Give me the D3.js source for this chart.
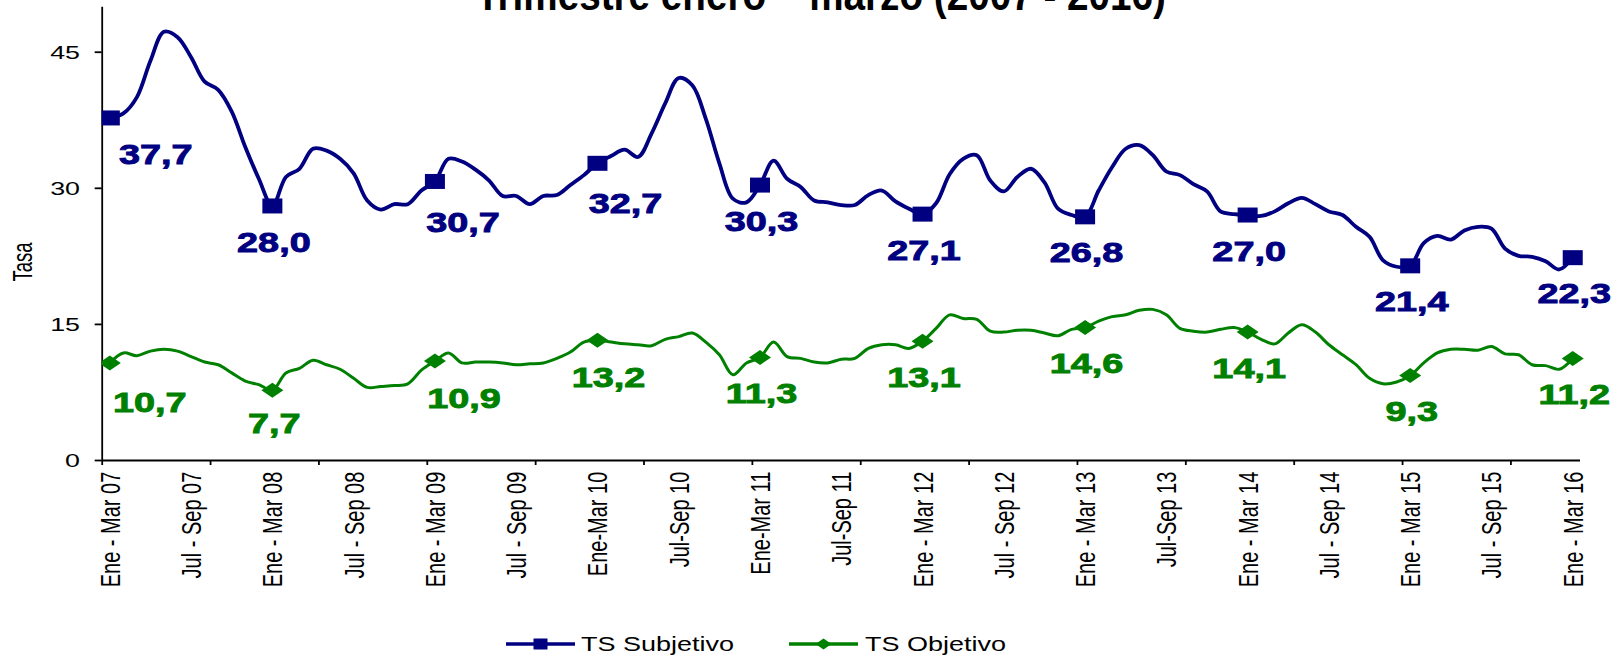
<!DOCTYPE html>
<html>
<head>
<meta charset="utf-8">
<script src="https://d3js.org/d3.v7.min.js"></script>
<style>
  body { margin: 0; background: #fff; }
  svg text { font-family: "Liberation Sans", Arial, sans-serif; fill: #000; }
</style>
</head>
<body>
<svg id="chart" width="1621" height="655"></svg>
<script>
// moving quarters, Ene-Mar 07 ... Ene-Mar 16 (one point per month)
var subjetivo = [
  37.7, 38.2, 40.0, 44.0, 47.2, 46.6, 44.4, 41.7, 40.8, 38.4, 34.5, 31.0,
  28.0, 31.2, 32.1, 34.3, 34.1, 33.2, 31.6, 28.6, 27.6, 28.2, 28.2, 29.7,
  30.7, 33.2, 32.9, 32.0, 30.8, 29.1, 29.1, 28.2, 29.1, 29.2, 30.3, 31.4,
  32.7, 33.5, 34.2, 33.4, 36.0, 39.3, 42.1, 41.3, 37.6, 32.7, 28.8, 28.4,
  30.3, 33.0, 31.0, 30.1, 28.6, 28.4, 28.1, 28.1, 29.2, 29.7, 28.5, 27.7,
  27.1, 28.3, 31.5, 33.2, 33.6, 30.8, 29.6, 31.2, 32.1, 30.6, 27.7, 27.0,
  26.8, 29.7, 32.3, 34.3, 34.7, 33.6, 31.8, 31.4, 30.4, 29.6, 27.4, 27.1,
  27.0, 26.9, 27.4, 28.3, 28.9, 28.2, 27.4, 27.0, 25.7, 24.6, 22.0, 21.3,
  21.4, 23.9, 24.7, 24.3, 25.3, 25.7, 25.5, 23.3, 22.5, 22.4, 21.9, 21.0,
  22.3
];
var objetivo = [
  10.7, 11.8, 11.5, 12.0, 12.2, 12.0, 11.4, 10.8, 10.5, 9.6, 8.7, 8.3,
  7.7, 9.6, 10.1, 11.0, 10.5, 10.0, 9.0, 8.0, 8.1, 8.2, 8.4, 9.9,
  10.9, 11.8, 10.7, 10.8, 10.8, 10.7, 10.5, 10.6, 10.7, 11.2, 11.9, 13.0,
  13.2, 13.0, 12.8, 12.7, 12.6, 13.3, 13.6, 14.0, 13.0, 11.6, 9.4, 10.7,
  11.3, 13.0, 11.4, 11.2, 10.8, 10.7, 11.1, 11.2, 12.3, 12.7, 12.7, 12.3,
  13.1, 14.5, 16.0, 15.6, 15.5, 14.2, 14.1, 14.3, 14.3, 14.0, 13.7, 14.4,
  14.6, 15.3, 15.8, 16.0, 16.5, 16.6, 16.0, 14.5, 14.2, 14.1, 14.4, 14.6,
  14.1, 13.3, 12.8, 14.0, 14.9, 14.1, 12.7, 11.6, 10.5, 9.0, 8.4, 8.6,
  9.3, 10.7, 11.8, 12.2, 12.2, 12.1, 12.5, 11.7, 11.6, 10.5, 10.4, 10.0,
  11.2
];
var xLabels = [
  "Ene - Mar 07", "Jul - Sep 07", "Ene - Mar 08", "Jul - Sep 08", "Ene - Mar 09",
  "Jul - Sep 09", "Ene-Mar 10", "Jul-Sep 10", "Ene-Mar 11", "Jul-Sep 11",
  "Ene - Mar 12", "Jul - Sep 12", "Ene - Mar 13", "Jul-Sep 13", "Ene - Mar 14",
  "Jul - Sep 14", "Ene - Mar 15", "Jul - Sep 15", "Ene - Mar 16"
];
var yTicks = [0, 15, 30, 45];
var seriesNames = ["TS Subjetivo", "TS Objetivo"];

var svg = d3.select("#chart");
var navy = "#000080", green = "#008000";
var stretch = 1.35; // text in the original is widened

var x = d3.scaleLinear().domain([-0.6, 108.5]).range([101.7, 1579.5]);
var y = d3.scaleLinear().domain([0, 50]).range([460, 6.35]);

var labelIdx = d3.range(0, subjetivo.length, 6);
var markIdx = d3.range(0, subjetivo.length, 12);
var tickIdx = d3.range(0, 14).map(function (k) { return 8 * k - 0.6; });
var fmt = function (v) { return d3.format(".1f")(v).replace(".", ","); };

svg.append("rect").attr("width", 1621).attr("height", 655).attr("fill", "#fff");

svg.append("clipPath").attr("id", "plot")
  .append("rect").attr("x", 101.7).attr("y", 0).attr("width", 1500).attr("height", 460);

// title (only its lower part shows, as in the original)
svg.append("text")
  .attr("x", 476).attr("y", 9.5)
  .attr("textLength", 690).attr("lengthAdjust", "spacingAndGlyphs")
  .style("font-size", "44px").style("font-weight", "bold")
  .text("Trimestre enero \u2013 marzo (2007 - 2016)");

// y axis
var gy = svg.append("g").attr("transform", "translate(" + x(-0.6) + ",0)")
  .call(d3.axisLeft(y).tickValues(yTicks).tickSize(7).tickSizeOuter(0));
gy.select(".domain").attr("stroke", "#000").attr("stroke-width", 1.8);
gy.selectAll(".tick line").attr("stroke", "#000").attr("stroke-width", 1.8);
gy.selectAll(".tick text")
  .attr("x", 0).attr("dy", "0.36em")
  .attr("transform", "translate(-21.7,0) scale(1.45,1)")
  .attr("font-family", null).attr("font-size", null)
  .style("font-size", "18.5px");

svg.append("text")
  .attr("transform", "translate(23,262) rotate(-90) scale(1,1.45)")
  .attr("text-anchor", "middle").attr("dy", "0.35em")
  .style("font-size", "18.5px")
  .text("Tasa");

// x axis: tick marks every 8 months, labels every 6
var gx = svg.append("g").attr("transform", "translate(0," + y(0) + ")")
  .call(d3.axisBottom(x).tickValues(tickIdx).tickSize(5).tickSizeOuter(0).tickFormat(""));
gx.select(".domain").attr("stroke", "#000").attr("stroke-width", 1.8);
gx.selectAll(".tick line").attr("stroke", "#000").attr("stroke-width", 1.8);

var gl = svg.append("g").attr("transform", "translate(0," + y(0) + ")")
  .call(d3.axisBottom(x).tickValues(labelIdx).tickSize(0)
    .tickFormat(function (d, i) { return xLabels[i]; }));
gl.select(".domain").remove();
gl.selectAll("text")
  .attr("x", 0).attr("y", 0).attr("dy", "0.35em")
  .attr("text-anchor", "end")
  .attr("transform", "translate(0,11.7) rotate(-90) scale(1," + stretch + ")")
  .attr("font-family", null).attr("font-size", null)
  .style("font-size", "20px");

// lines
var line = d3.line()
  .x(function (d, i) { return x(i); })
  .y(function (d) { return y(d); })
  .curve(d3.curveCatmullRom);

var plot = svg.append("g").attr("clip-path", "url(#plot)");

plot.append("path").datum(subjetivo)
  .attr("d", line).attr("fill", "none")
  .attr("stroke", navy).attr("stroke-width", 3.8).attr("stroke-linejoin", "round");

plot.append("path").datum(objetivo)
  .attr("d", line).attr("fill", "none")
  .attr("stroke", green).attr("stroke-width", 3).attr("stroke-linejoin", "round");

plot.selectAll(".sq").data(markIdx).enter().append("rect")
  .attr("x", function (i) { return x(i) - 10; })
  .attr("y", function (i) { return y(subjetivo[i]) - 7.5; })
  .attr("width", 20).attr("height", 15)
  .attr("fill", navy);

plot.selectAll(".dm").data(markIdx).enter().append("path")
  .attr("transform", function (i) { return "translate(" + x(i) + "," + y(objetivo[i]) + ")"; })
  .attr("d", "M0,-7.5L11,0L0,7.5L-11,0Z")
  .attr("fill", green);

// data labels (some were moved by hand in the original)
var shiftSub = { 0: [46, 35.5], 24: [28, 40.5], 36: [28, 39.7] };
var shiftObj = { 0: [40, 38.8], 12: [2, 33.2], 24: [29, 37.2], 36: [11, 36.5] };

function drawLabels(values, shifts, color) {
  svg.append("g").selectAll("text").data(markIdx).enter().append("text")
    .attr("transform", function (i) {
      var s = shifts[i] || [1.5, 35.5];
      return "translate(" + (x(i) + s[0]) + "," + (y(values[i]) + s[1]) + ") scale(" + stretch + ",1)";
    })
    .attr("text-anchor", "middle").attr("dy", "0.36em")
    .style("font-size", "28px").style("font-weight", "bold")
    .style("fill", color)
    .style("stroke", color).style("stroke-width", 0.9)
    .text(function (i) { return fmt(values[i]); });
}
drawLabels(subjetivo, shiftSub, navy);
drawLabels(objetivo, shiftObj, green);

// legend
var legend = [
  { name: seriesNames[0], color: navy, x0: 506, x1: 575, tx: 581 },
  { name: seriesNames[1], color: green, x0: 789, x1: 858, tx: 865 }
];
var lg = svg.append("g");
legend.forEach(function (l, k) {
  lg.append("line").attr("x1", l.x0).attr("x2", l.x1).attr("y1", 644).attr("y2", 644)
    .attr("stroke", l.color).attr("stroke-width", 3.4);
  var cx = (l.x0 + l.x1) / 2;
  if (k === 0) {
    lg.append("rect").attr("x", cx - 7).attr("y", 638.5).attr("width", 14).attr("height", 11)
      .attr("fill", l.color);
  } else {
    lg.append("path").attr("transform", "translate(" + cx + ",644)")
      .attr("d", "M0,-5.5L8,0L0,5.5L-8,0Z").attr("fill", l.color);
  }
  lg.append("text")
    .attr("transform", "translate(" + l.tx + ",651) scale(" + stretch + ",1)")
    .style("font-size", "20px")
    .text(l.name);
});
</script>
</body>
</html>
